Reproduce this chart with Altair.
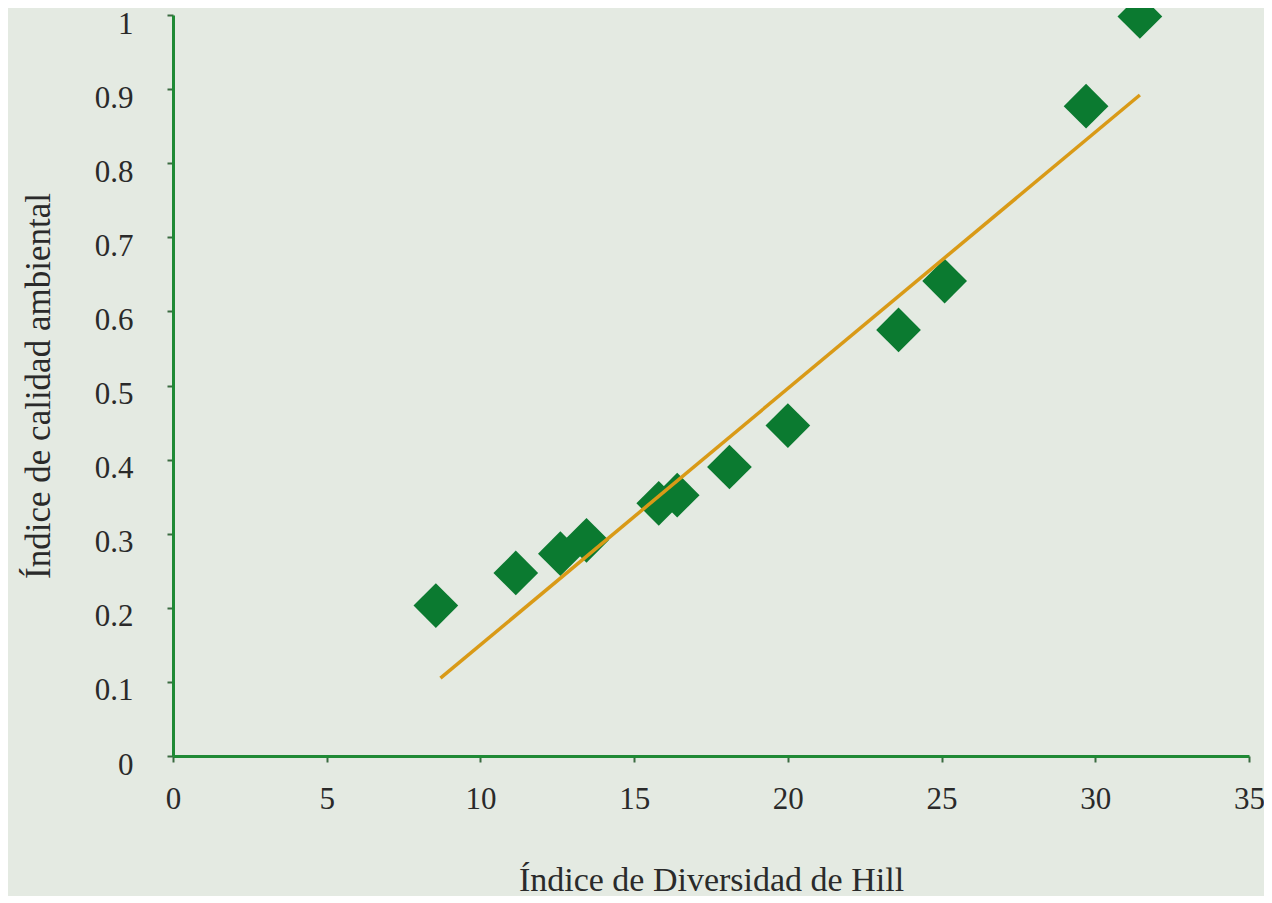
import altair as alt
import pandas as pd

hill = [8.55, 11.15, 12.6, 13.45, 15.8, 16.4, 18.1, 20.0, 23.6, 25.1, 29.7, 31.45]
calidad = [0.203, 0.247, 0.273, 0.291, 0.341, 0.352, 0.39, 0.446, 0.575, 0.641, 0.877, 0.998]

trend_x = [8.7, 31.45]
trend_y = [0.105, 0.892]

pts = pd.DataFrame({"x": hill, "y": calidad})
trend = pd.DataFrame({"x": trend_x, "y": trend_y})

FONT = "Liberation Serif"
BG = "#e4eae2"
AXIS_GREEN = "#1f8a35"

x_enc = alt.X("x:Q", scale=alt.Scale(domain=[0, 35], nice=False, zero=True),
              axis=alt.Axis(title="Índice de Diversidad de Hill", values=[0, 5, 10, 15, 20, 25, 30, 35],
                            grid=False, domainColor=AXIS_GREEN, domainWidth=3,
                            tickColor="#3a6b40", tickSize=6, tickWidth=2, labelFlush=False,
                            labelFont=FONT, labelFontSize=31, labelColor="#2a2a2a", labelPadding=22,
                            titleFont=FONT, titleFontSize=34, titleFontWeight="normal",
                            titleColor="#2a2a2a", titlePadding=49))
y_enc = alt.Y("y:Q", scale=alt.Scale(domain=[0, 1], nice=False),
              axis=alt.Axis(title="Índice de calidad ambiental",
                            values=[0, 0.1, 0.2, 0.3, 0.4, 0.5, 0.6, 0.7, 0.8, 0.9, 1], format=".1~f",
                            grid=False, domainColor=AXIS_GREEN, domainWidth=3,
                            tickColor="#3a6b40", tickSize=6, tickWidth=2, labelFlush=False,
                            labelOffset=9,
                            labelFont=FONT, labelFontSize=31, labelColor="#2a2a2a", labelPadding=34,
                            titleFont=FONT, titleFontSize=35, titleFontWeight="normal",
                            titleColor="#2a2a2a", titlePadding=38))

line = alt.Chart(trend).mark_line(color="#d99a17", strokeWidth=3.5).encode(x=x_enc, y=y_enc)
points = alt.Chart(pts).mark_point(shape="diamond", filled=True, size=2000, opacity=1,
                                    color="#0b7a30").encode(x="x:Q", y="y:Q")

chart = (points + line).properties(
    width=1076, height=741,
    background=BG,
    padding={"left": 165, "top": 7, "right": 15, "bottom": 140},
    autosize=alt.AutoSizeParams(type="none"),
).configure_view(stroke=None)

chart.save("out.html", embed_options={"renderer": "svg", "actions": False})
